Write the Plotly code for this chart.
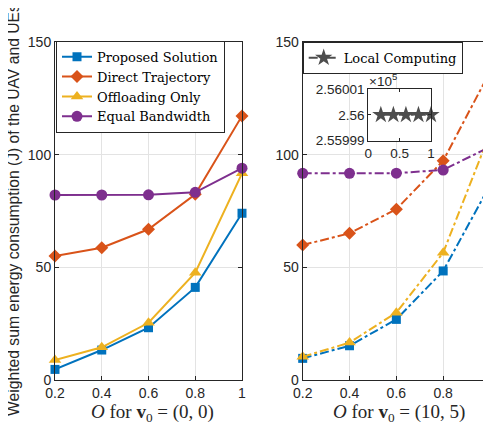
import plotly.graph_objects as go

O_vals = [0.2, 0.4, 0.6, 0.8, 1.0]

# v0 = (0, 0)
proposed_a = [4.7, 13.3, 23.2, 41.1, 74.0]
direct_a = [55.0, 58.7, 66.9, 82.4, 117.2]
offload_a = [8.9, 14.5, 25.4, 47.6, 91.7]
equal_a = [82.1, 82.1, 82.2, 83.3, 94.0]

# v0 = (10, 5)
proposed_b = [9.6, 15.2, 26.9, 48.4, 86.5]
direct_b = [59.9, 65.1, 75.8, 97.3, 136.8]
offload_b = [10.3, 16.6, 29.9, 56.5, 109.5]
equal_b = [91.7, 91.7, 91.8, 93.2, 103.5]

local_b = [256000, 256000, 256000, 256000, 256000]

names = ["Proposed Solution", "Direct Trajectory", "Offloading Only", "Equal Bandwidth"]
colors = ["#0072BD", "#D95319", "#EDB120", "#7E2F8E"]
symbols = ["square", "diamond", "triangle-up", "circle"]
msizes = [9, 10, 11, 11]

W, H = 491, 433
OFF = 8  # page body margin
ML, MR, MT, MB = 47, 9, 34, 61
PW = W - ML - MR
PH = H - MT - MB


def px_x(p):
    return (p - OFF - ML) / PW


def px_y(p):
    return (H - MB - (p - OFF)) / PH


fig = go.Figure()

sets_a = [proposed_a, direct_a, offload_a, equal_a]
sets_b = [proposed_b, direct_b, offload_b, equal_b]

for i in range(4):
    fig.add_trace(go.Scatter(
        x=O_vals, y=sets_a[i], name=names[i], mode="lines+markers",
        line=dict(color=colors[i], width=2),
        marker=dict(symbol=symbols[i], size=msizes[i], color=colors[i]),
        xaxis="x", yaxis="y", legend="legend", cliponaxis=False,
    ))
for i in range(4):
    fig.add_trace(go.Scatter(
        x=O_vals, y=sets_b[i], name=names[i], mode="lines+markers",
        line=dict(color=colors[i], width=2, dash="dashdot"),
        marker=dict(symbol=symbols[i], size=msizes[i], color=colors[i]),
        xaxis="x2", yaxis="y2", showlegend=False, cliponaxis=False,
    ))

fig.add_trace(go.Scatter(
    x=O_vals, y=local_b, name="Local Computing", mode="lines+markers",
    line=dict(color="#4d4d4d", width=2, dash="dashdot"),
    marker=dict(symbol="star", size=13, color="#4d4d4d"),
    xaxis="x3", yaxis="y3", legend="legend2", cliponaxis=False,
))

axcol = "#262626"
sans = "Liberation Sans, Arial, sans-serif"
serif_leg = "DejaVu Serif, serif"
tickfont = dict(family=sans, size=14, color=axcol)
common = dict(showline=True, mirror="ticks", linecolor=axcol, linewidth=1,
              ticks="inside", ticklen=4, tickcolor=axcol, showgrid=True,
              gridcolor="#e3e3e3", gridwidth=1, zeroline=False, tickfont=tickfont)

dom_left = [px_x(55), px_x(242)]
dom_right = [px_x(302.7), px_x(490)]

inset_font = dict(family=sans, size=13.5, color=axcol)

fig.update_layout(
    width=W, height=H,
    margin=dict(l=ML, r=MR, t=MT, b=MB, autoexpand=False),
    paper_bgcolor="white", plot_bgcolor="white",
    xaxis=dict(domain=dom_left, range=[0.2, 1], tickvals=O_vals,
               ticktext=["0.2", "0.4", "0.6", "0.8", "1"], anchor="y", **common),
    yaxis=dict(domain=[0, 1], range=[0, 150], tickvals=[0, 50, 100, 150], anchor="x", **common),
    xaxis2=dict(domain=dom_right, range=[0.2, 1], tickvals=O_vals,
                ticktext=["0.2", "0.4", "0.6", "0.8", "1"], anchor="y2", **common),
    yaxis2=dict(domain=[0, 1], range=[0, 150], tickvals=[0, 50, 100, 150], anchor="x2", **common),
    xaxis3=dict(domain=[px_x(368.3), px_x(431)], range=[0, 1], tickvals=[0, 0.5, 1],
                ticktext=["0", "0.5", "1"], anchor="y3", showline=True, mirror="ticks",
                linecolor=axcol, linewidth=1, ticks="inside", ticklen=3, tickcolor=axcol,
                showgrid=False, zeroline=False, tickfont=inset_font),
    yaxis3=dict(domain=[px_y(140.7), px_y(89)], range=[255999, 256001],
                tickvals=[255999, 256000, 256001], ticktext=["2.55999", "2.56", "2.56001"],
                anchor="x3", showline=True, mirror="ticks", linecolor=axcol, linewidth=1,
                ticks="inside", ticklen=3, tickcolor=axcol, showgrid=False, zeroline=False,
                tickfont=inset_font),
    legend=dict(x=px_x(56), y=px_y(40.7), xanchor="left", yanchor="top",
                bgcolor="white", bordercolor=axcol, borderwidth=1,
                font=dict(family=serif_leg, size=13, color="black"),
                tracegroupgap=0),
    legend2=dict(x=px_x(302.7), y=px_y(41.7), xanchor="left", yanchor="top",
                 bgcolor="white", bordercolor=axcol, borderwidth=1,
                 font=dict(family=serif_leg, size=13, color="black")),
    showlegend=True,
)

# white background of the inset
fig.add_shape(type="rect", xref="x3 domain", yref="y3 domain", x0=0, x1=1, y0=0, y1=1,
              fillcolor="white", line=dict(width=0), layer="below")

serif = dict(family="Liberation Serif, Times New Roman, serif", size=19, color=axcol)
fig.add_annotation(text="<i>O</i> for <b>v</b><sub>0</sub> = (0, 0)", xref="paper", yref="paper",
                   x=px_x(89), y=px_y(413), xanchor="left", yanchor="middle",
                   showarrow=False, font=serif)
fig.add_annotation(text="<i>O</i> for <b>v</b><sub>0</sub> = (10, 5)", xref="paper", yref="paper",
                   x=px_x(331), y=px_y(413), xanchor="left", yanchor="middle",
                   showarrow=False, font=serif)
fig.add_annotation(text="Weighted sum energy consumption (J) of the UAV and UEs",
                   xref="paper", yref="paper", x=px_x(13), y=px_y(210),
                   xanchor="center", yanchor="middle", textangle=-90, showarrow=False,
                   font=dict(family=sans, size=15.7, color=axcol))
fig.add_annotation(text="\u00d710<sup>5</sup>", xref="paper", yref="paper",
                   x=px_x(367), y=px_y(80), xanchor="left", yanchor="middle", showarrow=False,
                   font=inset_font)

fig.write_html("out.html")
